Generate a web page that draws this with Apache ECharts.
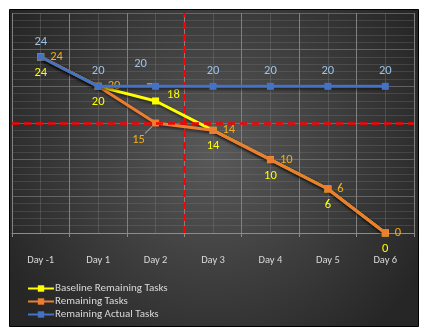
<!DOCTYPE html>
<html>
<head>
<meta charset="utf-8">
<script src="https://cdn.jsdelivr.net/npm/echarts@6/dist/echarts.min.js"></script>
<style>
html,body{margin:0;padding:0;background:#fff;}
#c{width:424px;height:336px;}
</style>
</head>
<body>
<div id="c"></div>
<script>
// ---- data ----
const categories = ['Day -1', 'Day 1', 'Day 2', 'Day 3', 'Day 4', 'Day 5', 'Day 6'];
const baselineRemaining = [24, 20, 18, 14, 10, 6, 0];
const remainingTasks = [24, 20, 15, 14, 10, 6, 0];
const remainingActual = [24, 20, 20, 20, 20, 20, 20];
const seriesNames = ['Baseline Remaining Tasks', 'Remaining Tasks', 'Remaining Actual Tasks'];
const targetLevel = 15;          // horizontal reference line (tasks)
const cutoffBoundary = 3;        // vertical reference: boundary between Day 2 and Day 3 (edges numbered 0..7)
const yMin = 0, yMax = 30, yStep = 5;

const FONT = 'Carlito, Lato, "Liberation Sans", sans-serif';
const C_YEL = '#FFFF00', C_ORG = '#ED7D31', C_BLU = '#4472C4';
const L_YEL = '#FFFF00', L_ORG = '#F2AE1C', L_BLU = '#9DC3E6';

const shadow = { shadowColor: 'rgba(0,0,0,0.55)', shadowBlur: 3, shadowOffsetX: 1, shadowOffsetY: 2 };

function build(values, special) {
  return values.map((v, i) => special[i] ? Object.assign({ value: v }, special[i]) : v);
}

const chart = echarts.init(document.getElementById('c'), null, { renderer: 'canvas' });
chart.setOption({
  animation: false,
  backgroundColor: 'transparent',
  textStyle: { fontFamily: FONT },
  graphic: [{
    type: 'rect', z: -100, silent: true,
    shape: { x: 9.5, y: 9.5, width: 409, height: 317 },
    style: {
      stroke: '#000', lineWidth: 1,
      fill: new echarts.graphic.RadialGradient(0.5, 0.45, 0.75, [
        { offset: 0, color: '#595959' },
        { offset: 1, color: '#262626' }
      ])
    }
  }],
  grid: { left: 12, right: 10, top: 13, bottom: 103, containLabel: false },
  legend: {
    orient: 'vertical', left: 27, top: 283, padding: 0, itemGap: 2,
    itemWidth: 26, itemHeight: 8,
    data: seriesNames,
    textStyle: { color: '#D9D9D9', fontSize: 11, fontFamily: FONT, padding: [0, 0, 0, -4] }
  },
  xAxis: [{
    type: 'category', data: categories, boundaryGap: true,
    axisLine: { lineStyle: { color: '#8C8C8C' } },
    axisTick: { show: true, length: 4, lineStyle: { color: '#8C8C8C' } },
    axisLabel: { margin: 22, color: '#D9D9D9', fontSize: 10.5, fontFamily: FONT },
    splitLine: { show: true, lineStyle: { color: '#808080', width: 1 } }
  }, {
    type: 'value', min: 0, max: categories.length, interval: 1, position: 'top',
    axisLine: { show: false }, axisTick: { show: false }, axisLabel: { show: false },
    splitLine: { show: false },
    minorTick: { show: false, splitNumber: 2 },
    minorSplitLine: { show: true, lineStyle: { color: 'rgba(128,128,128,0.35)', width: 1 } }
  }],
  yAxis: {
    type: 'value', min: yMin, max: yMax, interval: yStep,
    axisLine: { show: false }, axisTick: { show: false }, axisLabel: { show: false },
    splitLine: { show: true, lineStyle: { color: 'rgba(140,140,140,0.55)' } },
    minorTick: { show: false, splitNumber: 5 },
    minorSplitLine: { show: true, lineStyle: { color: 'rgba(128,128,128,0.28)' } }
  },
  series: [{
    name: 'ref', type: 'line', xAxisIndex: 1, data: [], z: 1, silent: true,
    markLine: {
      silent: true, symbol: 'none', label: { show: false },
      lineStyle: { color: '#FF0000', type: [7, 5], width: 2.5 },
      data: [{ yAxis: targetLevel }, { xAxis: cutoffBoundary }]
    }
  }, {
    name: seriesNames[0], type: 'line', z: 3,
    data: build(baselineRemaining, { 2: { label: { position: 'right', distance: 8, offset: [0, -6] } } }),
    symbol: 'rect', symbolSize: 7,
    itemStyle: { color: C_YEL },
    lineStyle: Object.assign({ color: C_YEL, width: 3 }, shadow),
    label: { show: true, position: 'bottom', distance: 6, color: L_YEL, fontSize: 12.5, fontFamily: FONT }
  }, {
    name: seriesNames[1], type: 'line', z: 4,
    data: build(remainingTasks, { 2: { label: { position: 'bottom', distance: 4, offset: [-17, 3] }, labelLine: { show: true, lineStyle: { color: '#BFBFBF', width: 1 } } } }),
    symbol: 'rect', symbolSize: 7,
    itemStyle: { color: C_ORG },
    lineStyle: Object.assign({ color: C_ORG, width: 3 }, shadow),
    label: { show: true, position: 'right', distance: 6, color: L_ORG, fontSize: 12.5, fontFamily: FONT }
  }, {
    name: seriesNames[2], type: 'line', z: 5,
    data: build(remainingActual, { 2: { label: { offset: [-15, -7] }, labelLine: { show: true, lineStyle: { color: '#BFBFBF', width: 1 } } } }),
    symbol: 'rect', symbolSize: 7,
    itemStyle: { color: C_BLU },
    lineStyle: Object.assign({ color: C_BLU, width: 3 }, shadow),
    label: { show: true, position: 'top', distance: 5, color: L_BLU, fontSize: 12.5, fontFamily: FONT }
  }]
});
</script>
</body>
</html>
